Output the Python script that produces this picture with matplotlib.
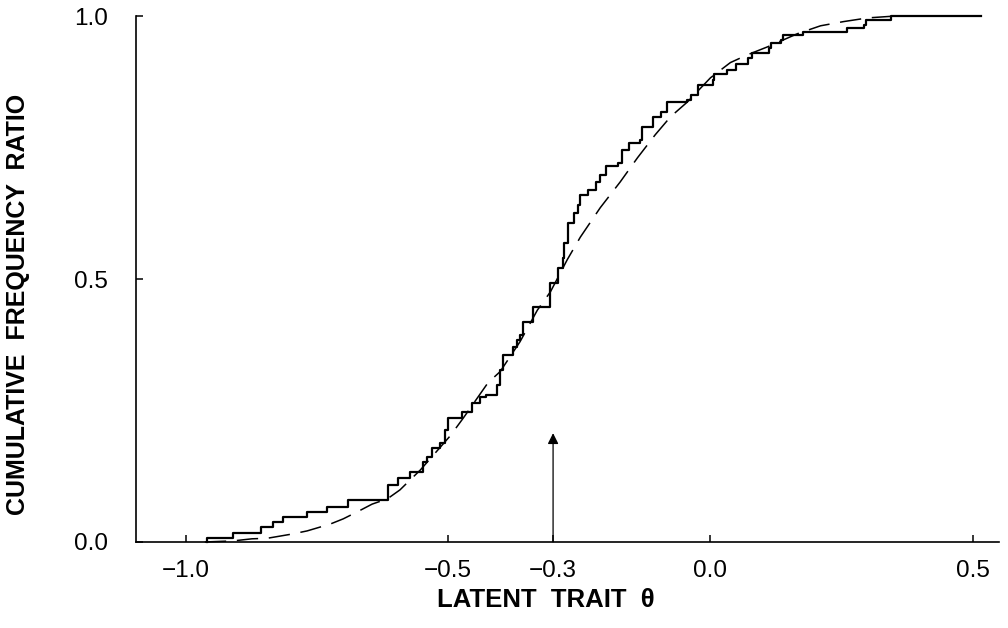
import numpy as np
import matplotlib
matplotlib.use('Agg')
import matplotlib.pyplot as plt
from matplotlib import rcParams

rcParams['font.family'] = ['Liberation Sans', 'DejaVu Sans']

# observed cumulative frequency ratio (jump positions and level after each jump)
step_x = [-0.960, -0.910, -0.857, -0.834, -0.815, -0.769, -0.731, -0.691,
          -0.615, -0.595, -0.573, -0.548, -0.540, -0.531, -0.515, -0.506,
          -0.500, -0.473, -0.454, -0.439, -0.427, -0.406, -0.402, -0.395,
          -0.376, -0.368, -0.363, -0.357, -0.338, -0.305, -0.290, -0.282,
          -0.279, -0.271, -0.261, -0.252, -0.248, -0.233, -0.219, -0.210,
          -0.200, -0.176, -0.168, -0.156, -0.134, -0.130, -0.109, -0.095,
          -0.082, -0.044, -0.038, -0.023, 0.004, 0.007, 0.032, 0.048,
          0.071, 0.080, 0.111, 0.115, 0.134, 0.139, 0.177, 0.261,
          0.292, 0.296, 0.344]
step_y = [0.008, 0.017, 0.029, 0.038, 0.048, 0.057, 0.067, 0.080,
          0.108, 0.122, 0.133, 0.152, 0.162, 0.179, 0.188, 0.213,
          0.236, 0.247, 0.265, 0.276, 0.280, 0.299, 0.327, 0.356,
          0.371, 0.384, 0.394, 0.419, 0.447, 0.493, 0.521, 0.540,
          0.569, 0.607, 0.626, 0.641, 0.660, 0.670, 0.685, 0.698,
          0.716, 0.721, 0.746, 0.759, 0.765, 0.790, 0.809, 0.818,
          0.837, 0.841, 0.851, 0.870, 0.879, 0.891, 0.898, 0.910,
          0.921, 0.931, 0.940, 0.950, 0.955, 0.965, 0.971, 0.978,
          0.984, 0.993, 1.000]
step_end = 0.515

# fitted curve (dashed)
fit_x = [-0.964, -0.910, -0.874, -0.845, -0.798, -0.769, -0.725, -0.700,
         -0.670, -0.645, -0.616, -0.592, -0.553, -0.496, -0.471, -0.424,
         -0.401, -0.363, -0.330, -0.305, -0.273, -0.248, -0.210, -0.172,
         -0.139, -0.105, -0.076, -0.044, 0.000, 0.038, 0.071, 0.109,
         0.166, 0.210, 0.254, 0.300, 0.344]
fit_y = [0.000, 0.002, 0.006, 0.007, 0.015, 0.021, 0.034, 0.044,
         0.059, 0.072, 0.082, 0.099, 0.137, 0.202, 0.236, 0.303,
         0.324, 0.381, 0.441, 0.476, 0.537, 0.580, 0.636, 0.685,
         0.731, 0.775, 0.809, 0.837, 0.883, 0.912, 0.927, 0.942,
         0.967, 0.982, 0.990, 0.997, 1.000]

theta_mark = -0.3
arrow_top = 0.207

x_ticks = [-1.0, -0.5, -0.3, 0.0, 0.5]
x_ticklabels = ['\u22121.0', '\u22120.5', '\u22120.3', '0.0', '0.5']
y_ticks = [0.0, 0.5, 1.0]
y_ticklabels = ['0.0', '0.5', '1.0']

fig = plt.figure(figsize=(10.08, 6.28), dpi=100)
ax = fig.add_axes([0.135, 0.137, 0.856, 0.837])

# step curve of the observed data
xs = [step_x[0]] + step_x + [step_end]
ys = [0.0] + step_y + [step_y[-1]]
ax.step(xs, ys, where='post', color='black', lw=1.6, clip_on=False, zorder=3)

# fitted curve
ax.plot(fit_x, fit_y, color='black', lw=1.1, dashes=(14, 7), clip_on=False, zorder=2)

# arrow at theta = -0.3
ax.annotate('', xy=(theta_mark, arrow_top), xytext=(theta_mark, 0.0),
            arrowprops=dict(arrowstyle='-|>', color='black', lw=0.9,
                            mutation_scale=16, shrinkA=0, shrinkB=0))

ax.set_xlim(-1.095, 0.55)
ax.set_ylim(0.0, 1.0)

for side in ['top', 'right']:
    ax.spines[side].set_visible(False)
for side in ['left', 'bottom']:
    ax.spines[side].set_linewidth(1.2)

ax.set_xticks(x_ticks)
ax.set_xticklabels(x_ticklabels)
ax.set_yticks(y_ticks)
ax.set_yticklabels(y_ticklabels)
ax.tick_params(axis='both', direction='in', length=5, width=1.1, labelsize=17.5)
ax.tick_params(axis='x', pad=13)
ax.tick_params(axis='y', pad=20)

ax.set_xlabel('LATENT  TRAIT  \u03b8', fontsize=18.5, fontweight='bold', va='center')
ax.xaxis.set_label_coords(0.475, -0.110)
ax.set_ylabel('CUMULATIVE  FREQUENCY  RATIO', fontsize=18, fontweight='bold', va='center')
ax.yaxis.set_label_coords(-0.137, 0.451)

plt.savefig('out.png', dpi=100)
plt.close(fig)
